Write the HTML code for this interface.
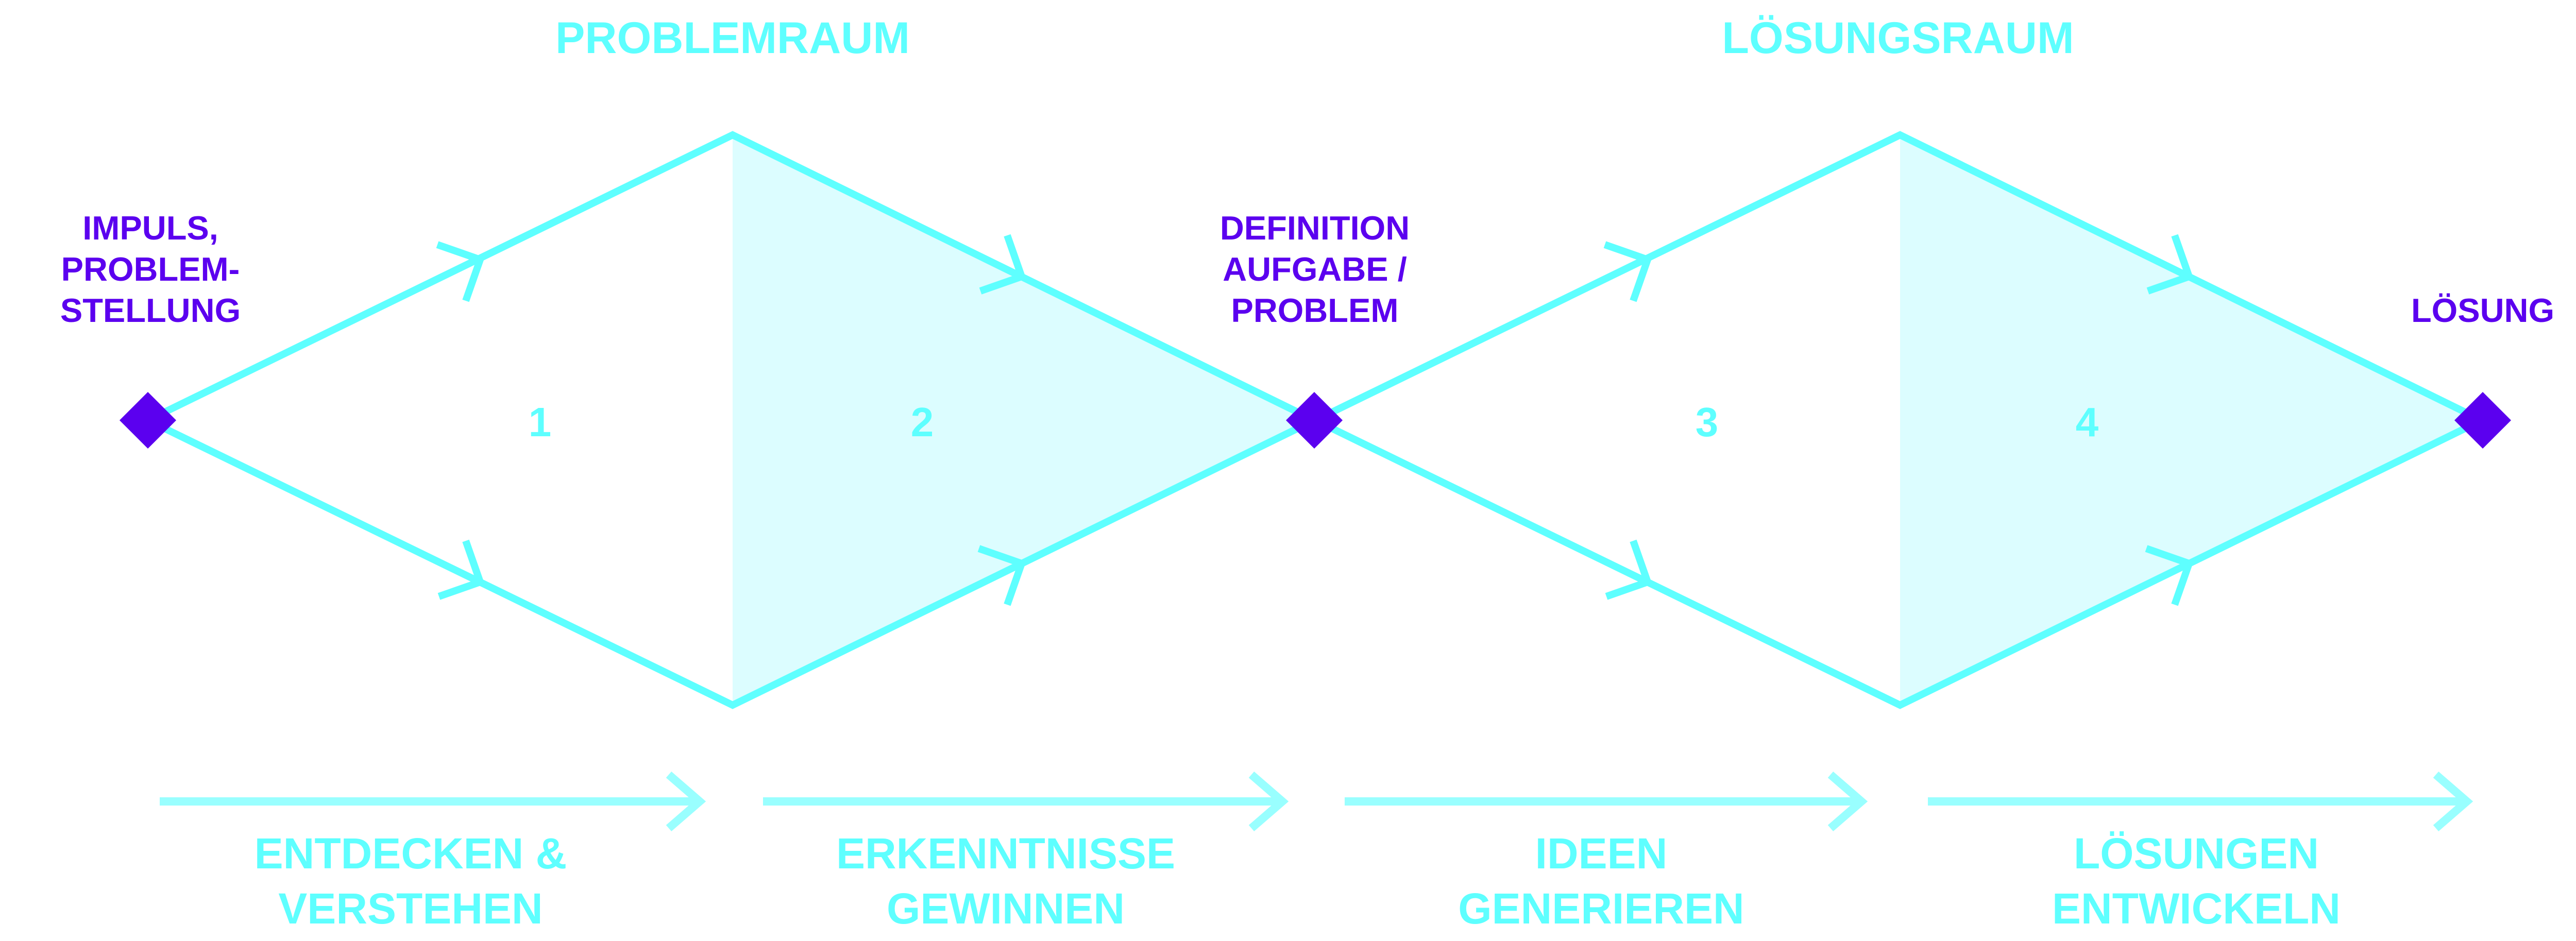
<!DOCTYPE html>
<html><head><meta charset="utf-8"><style>
html,body{margin:0;padding:0;background:#fff;}
svg{display:block}
text{font-family:"Liberation Sans",sans-serif;font-weight:bold;}
</style></head><body>
<svg width="5102" height="1827" viewBox="0 0 5102 1827" xmlns="http://www.w3.org/2000/svg">
<defs>
<g id="dia">
  <polygon points="1422,262 1422,1369 2551,816" fill="#dcfdff"/>
  <polyline points="287,816 1422,262 2551,816 1422,1369 287,816" fill="none" stroke="#5effff" stroke-width="14" stroke-linejoin="miter"/>
  <g fill="none" stroke="#5effff" stroke-width="14">
    <polyline points="849,475 932,504 904,584"/>
    <polyline points="1903,565 1983,537 1955,457"/>
    <polyline points="852,1158 932,1130 904,1050"/>
    <polyline points="1900,1065 1983,1094 1955,1174"/>
  </g>
</g>
</defs>
<use href="#dia"/>
<use href="#dia" transform="translate(2266,0)"/>
<g fill="#5b00ef">
  <polygon points="287,761 342,816 287,871 232,816"/>
  <polygon points="2551,761 2606,816 2551,871 2496,816"/>
  <polygon points="4819,761 4874,816 4819,871 4764,816"/>
</g>
<!-- bottom arrows -->
<g fill="none" stroke="#99ffff" stroke-width="16">
  <line x1="310" y1="1556" x2="1356" y2="1556"/><polyline points="1298,1504 1358,1556 1298,1608"/>
  <line x1="1481" y1="1556" x2="2487" y2="1556"/><polyline points="2429,1504 2489,1556 2429,1608"/>
  <line x1="2610" y1="1556" x2="3611" y2="1556"/><polyline points="3553,1504 3613,1556 3553,1608"/>
  <line x1="3742" y1="1556" x2="4786" y2="1556"/><polyline points="4728,1504 4788,1556 4728,1608"/>
</g>
<g fill="#5effff" text-anchor="middle">
  <text x="1422" y="103" font-size="86">PROBLEMRAUM</text>
  <text x="3684" y="103" font-size="86">LÖSUNGSRAUM</text>
  <text x="1048" y="847" font-size="80">1</text>
  <text x="1790" y="847" font-size="80">2</text>
  <text x="3313" y="847" font-size="80">3</text>
  <text x="4051" y="847" font-size="80">4</text>
  <g font-size="84">
    <text x="797" y="1686">ENTDECKEN &amp;</text>
    <text x="797" y="1793">VERSTEHEN</text>
    <text x="1952" y="1686">ERKENNTNISSE</text>
    <text x="1952" y="1793">GEWINNEN</text>
    <text x="3108" y="1686">IDEEN</text>
    <text x="3108" y="1793">GENERIEREN</text>
    <text x="4263" y="1686">LÖSUNGEN</text>
    <text x="4263" y="1793">ENTWICKELN</text>
  </g>
</g>
<g fill="#5b00ef" text-anchor="middle" font-size="65">
  <text x="292" y="465">IMPULS,</text>
  <text x="292" y="545">PROBLEM-</text>
  <text x="292" y="625">STELLUNG</text>
  <text x="2552" y="465">DEFINITION</text>
  <text x="2552" y="545">AUFGABE /</text>
  <text x="2552" y="625">PROBLEM</text>
  <text x="4819" y="625">LÖSUNG</text>
</g>
</svg>
</body></html>
